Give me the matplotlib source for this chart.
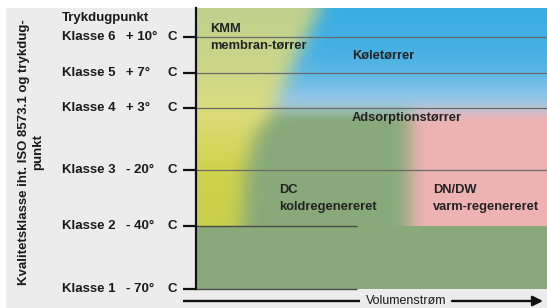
import numpy as np
import matplotlib.pyplot as plt
import matplotlib.colors as mcolors
import matplotlib.transforms as mtransforms
from matplotlib import rcParams
from matplotlib.patches import Rectangle
rcParams['font.family'] = ['Liberation Sans', 'DejaVu Sans']

# quality classes (ISO 8573.1) and pressure dew point
klasser = ['Klasse 1', 'Klasse 2', 'Klasse 3', 'Klasse 4', 'Klasse 5', 'Klasse 6']
dugpunkt = ['- 70°', '- 40°', '- 20°', '+ 3°', '+ 7°', '+ 10°']
enhed = 'C'

# dryer types shown in the zones
torrer_navne = ['KMM\nmembran-tørrer', 'Køletørrer', 'Adsorptionstørrer',
                'DC\nkoldregenereret', 'DN/DW\nvarm-regenereret']

# zone colours
farve_kmm = ['#c9d04c', '#cfd24c', '#d5d65a', '#dcdc80', '#cdd687', '#c0d18c']
farve_kole = ['#b0cde0', '#88c3e8', '#5cb6e6', '#45b0e4', '#3aade3']
farve_dc = '#88aa7b'
farve_dn = '#efb3b3'
bg = '#ececec'

# ---- layout (pixels) ----
W, H = 351, 281                 # coloured panel
klasse_y = [0, 63, 119, 181, 216, 252]
kmm_kant_y = [63, 119, 154, 169, 189, 239, 281]
kmm_kant_x = [46, 50, 59, 71, 81, 104, 124]
kmm_ramp_y = [63, 119, 140, 181, 216, 281]
kole_ramp_y = [178, 195, 216, 240, 281]
kole_bund = 178
dc_dn_kant = 214
kort_linje = 161


def ramp(y, ys, cs):
    rgb = np.array([mcolors.to_rgb(c) for c in cs])
    return np.stack([np.interp(y, ys, rgb[:, i]) for i in range(3)], axis=-1)


def blur(a, sigma, axis):
    r = int(3 * sigma)
    k = np.exp(-0.5 * (np.arange(-r, r + 1) / sigma) ** 2)
    k /= k.sum()
    pad = [(0, 0)] * a.ndim
    pad[axis] = (r, r)
    ap = np.pad(a, pad, mode='edge')
    return np.apply_along_axis(lambda v: np.convolve(v, k, mode='valid'), axis, ap)


xx, yy = np.meshgrid(np.arange(W) + 0.5, np.arange(H) + 0.5)
img = np.zeros((H, W, 3))
kant = np.interp(yy, kmm_kant_y, kmm_kant_x)
m_kmm = xx < kant
m_kole = ~m_kmm & (yy >= kole_bund)
m_dc = ~m_kmm & (yy < kole_bund) & (xx < dc_dn_kant)
m_dn = ~m_kmm & (yy < kole_bund) & (xx >= dc_dn_kant)
img[m_kmm] = ramp(yy, kmm_ramp_y, farve_kmm)[m_kmm]
img[m_kole] = ramp(yy, kole_ramp_y, farve_kole)[m_kole]
img[m_dc] = mcolors.to_rgb(farve_dc)
img[m_dn] = mcolors.to_rgb(farve_dn)
img = blur(img, 9, 1)
img = blur(img, 6, 0)
img[yy < klasse_y[1]] = mcolors.to_rgb(farve_dc)
img = np.clip(img, 0, 1)

fig = plt.figure(figsize=(5.47, 3.08), dpi=100)
fig.patches.append(Rectangle((6 / 547, 0), 1, 300 / 308, transform=fig.transFigure,
                             facecolor=bg, edgecolor='none', zorder=-10))

ax = fig.add_axes([196 / 547, 19 / 308, W / 547, H / 308])
ax.set_facecolor('none')
ax.imshow(img, extent=(0, W, 0, H), origin='lower', aspect='auto', interpolation='bilinear')
ax.set_xlim(0, W)
ax.set_ylim(0, H)

ax.hlines(klasse_y[2:], 0, W, colors='#6a6a6a', lw=0.9)
ax.hlines(klasse_y[:2], 0, kort_linje, colors='#4a4a4a', lw=1.0, clip_on=False)

for s in ['top', 'right', 'bottom']:
    ax.spines[s].set_visible(False)
ax.spines['left'].set_linewidth(1.6)
ax.spines['left'].set_color('#111111')
ax.set_xticks([])
ax.set_yticks(klasse_y)
ax.set_yticklabels([])
ax.tick_params(axis='y', direction='out', length=9.4, width=1.6, color='#111111')

trans = mtransforms.blended_transform_factory(fig.transFigure, ax.transData)
tkw = dict(fontsize=9.5, fontweight='bold', color='#1a1a1a', va='center', transform=trans)
for k, d, y in zip(klasser, dugpunkt, klasse_y):
    ax.text(62 / 547, y, k, **tkw)
    ax.text(126 / 547, y, d, **tkw)
    ax.text(167 / 547, y, enhed, **tkw)
ax.text(62 / 547, 271, 'Trykdugpunkt', **tkw)

fig.text(31 / 547, 156 / 308, 'Kvalitetsklasse iht. ISO 8573.1 og trykdug-\npunkt',
         rotation=90, ha='center', va='center', multialignment='center',
         fontsize=9.5, fontweight='bold', color='#1a1a1a', linespacing=1.3)

# zone labels
navn_x = [14, 156, 156, 83, 237]
navn_y = [266, 233, 171, 105, 105]
for navn, x, y in zip(torrer_navne, navn_x, navn_y):
    ax.text(x, y, navn, fontsize=9.3, fontweight='bold', color='#222222',
            ha='left', va='center' if '\n' not in navn else 'top',
            linespacing=1.55)

# flow arrow, broken around its label
pil_y = -12
ax.plot([-13, 164], [pil_y, pil_y], color='#111111', lw=1.7, clip_on=False,
        solid_capstyle='butt')
ax.annotate('', xy=(347, pil_y), xytext=(256, pil_y), annotation_clip=False,
            arrowprops=dict(arrowstyle='-|>', lw=1.7, color='#111111', mutation_scale=15,
                            shrinkA=0, shrinkB=0))
ax.text(210, pil_y, 'Volumenstrøm', fontsize=9, color='#1a1a1a', ha='center', va='center',
        clip_on=False)

fig.savefig('out.png', dpi=100)
